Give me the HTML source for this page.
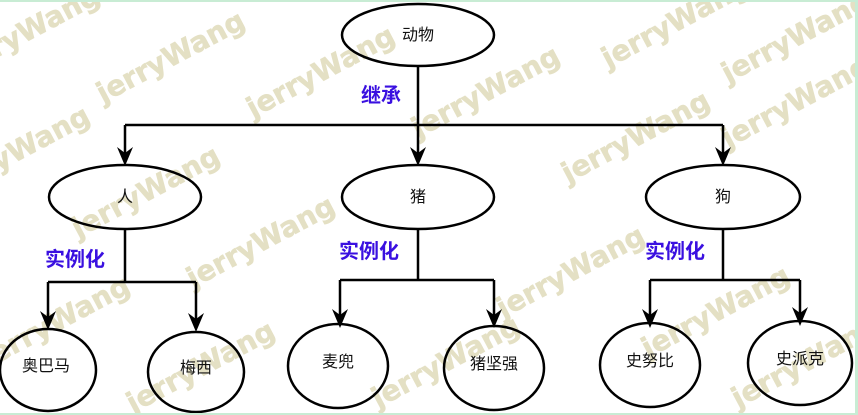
<!DOCTYPE html>
<html><head><meta charset="utf-8"><style>
html,body{margin:0;padding:0;background:#fff;width:858px;height:415px;overflow:hidden}
svg{display:block;overflow:hidden}
.wm{font-family:"DejaVu Sans","Liberation Sans",sans-serif;font-weight:bold;font-size:28px;fill:#e4e0c4;stroke:#e4e0c4;stroke-width:0.6}
.n{font-family:"Liberation Sans","Noto Sans CJK SC",sans-serif;font-size:16px;fill:#111}
.l{font-family:"Liberation Sans","Noto Sans CJK SC",sans-serif;font-size:20px;font-weight:bold;fill:#3a10e0}
</style></head><body>
<svg width="858" height="415" viewBox="0 0 858 415" xmlns="http://www.w3.org/2000/svg">
<rect x="0" y="0" width="858" height="415" fill="#fff"/>
<g class="wm" text-anchor="middle">
<text transform="translate(30,40) rotate(-28)">jerryWang</text>
<text transform="translate(175,65) rotate(-28)">jerryWang</text>
<text transform="translate(325,80) rotate(-28)">jerryWang</text>
<text transform="translate(490,100) rotate(-28)">jerryWang</text>
<text transform="translate(640,145) rotate(-28)">jerryWang</text>
<text transform="translate(680,30) rotate(-28)">jerryWang</text>
<text transform="translate(800,45) rotate(-28)">jerryWang</text>
<text transform="translate(800,110) rotate(-28)">jerryWang</text>
<text transform="translate(20,160) rotate(-28)">jerryWang</text>
<text transform="translate(150,200) rotate(-28)">jerryWang</text>
<text transform="translate(265,250) rotate(-28)">jerryWang</text>
<text transform="translate(575,280) rotate(-28)">jerryWang</text>
<text transform="translate(720,320) rotate(-28)">jerryWang</text>
<text transform="translate(60,330) rotate(-28)">jerryWang</text>
<text transform="translate(205,375) rotate(-28)">jerryWang</text>
<text transform="translate(450,370) rotate(-28)">jerryWang</text>
<text transform="translate(810,370) rotate(-28)">jerryWang</text>
</g>
<g fill="none" stroke="#000" stroke-width="2.5">
<path d="M418 66V125M125 125H723M125 125V160M418 125V160M723 125V160"/>
<path d="M125 229V282M48 282H196M48 282V325M196 282V325"/>
<path d="M418 229V280M340 280H494M340 280V322M494 280V322"/>
<path d="M723 229V280M650 280H800M650 280V322M800 280V322"/>
<ellipse cx="418" cy="35" rx="76" ry="31"/>
<ellipse cx="125" cy="197" rx="76" ry="32"/>
<ellipse cx="418" cy="197" rx="76" ry="32"/>
<ellipse cx="723" cy="197" rx="77" ry="32"/>
<ellipse cx="48" cy="370" rx="48" ry="41"/>
<ellipse cx="196" cy="372" rx="48" ry="40"/>
<ellipse cx="338" cy="366" rx="50" ry="42"/>
<ellipse cx="494" cy="368" rx="50" ry="42"/>
<ellipse cx="650" cy="365" rx="50" ry="42"/>
<ellipse cx="800" cy="363" rx="52" ry="42"/>
</g>
<g fill="#000">
<path d="M117 147L125 166L133 147L125 153Z"/>
<path d="M410 147L418 166L426 147L418 153Z"/>
<path d="M715 147L723 166L731 147L723 153Z"/>
<path d="M40 311L48 330L56 311L48 317Z"/>
<path d="M188 313L196 332L204 313L196 319Z"/>
<path d="M332 309L340 328L348 309L340 315Z"/>
<path d="M486 309L494 328L502 309L494 315Z"/>
<path d="M642 309L650 328L658 309L650 315Z"/>
<path d="M792 307L800 326L808 307L800 313Z"/>
</g>
<g class="n" text-anchor="middle">
<text x="418" y="40">动物</text>
<text x="125" y="202">人</text>
<text x="418" y="202">猪</text>
<text x="723" y="202">狗</text>
<text x="46" y="371">奥巴马</text>
<text x="196" y="373">梅西</text>
<text x="338" y="367">麦兜</text>
<text x="494" y="369">猪坚强</text>
<text x="650" y="366">史努比</text>
<text x="800" y="364">史派克</text>
</g>
<g class="l">
<text x="361" y="102">继承</text>
<text x="45" y="266">实例化</text>
<text x="339" y="258">实例化</text>
<text x="645" y="258">实例化</text>
</g>
<rect x="0" y="0" width="858" height="2" fill="#c8ecd4"/>
<rect x="0" y="413" width="858" height="2" fill="#c8ecd4"/>
<rect x="855" y="0" width="3" height="415" fill="#c8ecd4"/>
</svg>
</body></html>
